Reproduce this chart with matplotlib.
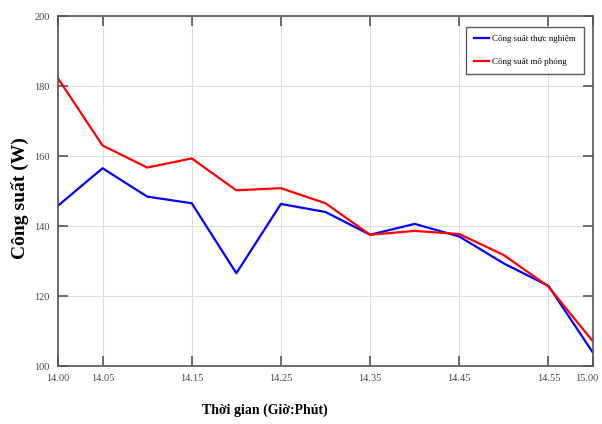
import matplotlib.pyplot as plt
import matplotlib.transforms as mtransforms

# thoi gian do (phut tinh tu 14:00) va cong suat (W)
phut = [0, 5, 10, 15, 20, 25, 30, 35, 40, 45, 50, 55, 60]
cs_thuc_nghiem = [145.8, 156.5, 148.4, 146.5, 126.5, 146.3, 144.0, 137.5, 140.6, 137.0, 129.3, 122.9, 103.8]
cs_mo_phong = [182.2, 163.0, 156.7, 159.3, 150.2, 150.8, 146.5, 137.5, 138.6, 137.7, 131.7, 122.7, 107.0]

moc_x = [0, 5, 15, 25, 35, 45, 55, 60]
nhan_x = ['14.00', '14.05', '14.15', '14.25', '14.35', '14.45', '14.55', '15.00']
moc_y = [100, 120, 140, 160, 180, 200]

plt.rcParams['font.family'] = ['Liberation Serif', 'DejaVu Serif']

fig = plt.figure(figsize=(6.02, 4.24), dpi=100)
ax = fig.add_axes([58 / 602, 1 - 366 / 424, 535 / 602, 350 / 424])

ax.plot(phut, cs_thuc_nghiem, color='#0000ff', lw=1.6, label='Công suất thực nghiệm')
ax.plot(phut, cs_mo_phong, color='#ff0000', lw=1.6, label='Công suất mô phỏng')

ax.set_xlim(0, 60)
ax.set_ylim(100, 200)
ax.set_xticks(moc_x)
ax.set_xticklabels(nhan_x)
ax.set_yticks(moc_y)
ax.grid(True, color='#dddddd', lw=0.8)
ax.tick_params(direction='in', top=True, right=True, labelsize=7.5,
               length=7, width=1.2, color='#555555', labelcolor='#444444', pad=6)
for s in ax.spines.values():
    s.set_color('#555555')
    s.set_linewidth(1.2)

# nhan cuoi lui vao trong mot chut de khong bi cat
nhan_cuoi = ax.get_xticklabels()[-1]
nhan_cuoi.set_transform(nhan_cuoi.get_transform() +
                        mtransforms.ScaledTranslation(-6 / 100, 0, fig.dpi_scale_trans))

leg = ax.legend(loc='upper right', bbox_to_anchor=(0.983, 0.969), borderaxespad=0,
                fontsize=6.5, fancybox=False, edgecolor='#333333', handlelength=1.7,
                handletextpad=0.3, labelspacing=1.6, borderpad=0.9)
leg.get_frame().set_linewidth(1.0)

fig.text(20 / 602, 1 - 198 / 424, 'Công suất (W)', rotation=90, fontsize=14,
         fontweight='bold', ha='center', va='center')
fig.text(265 / 602, 1 - 410 / 424, 'Thời gian (Giờ:Phút)', fontsize=10,
         fontweight='bold', ha='center', va='center')

fig.savefig('out.png', dpi=100)
